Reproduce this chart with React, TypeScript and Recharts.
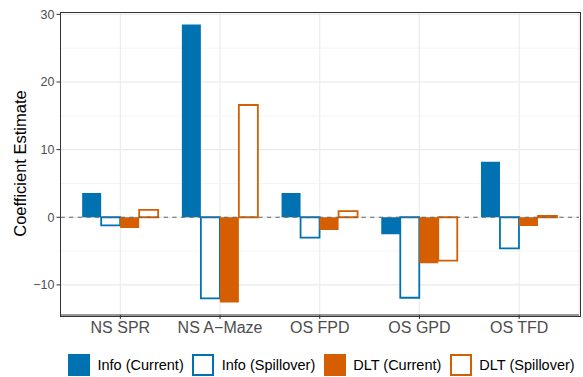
import React from "react";
import {
  BarChart,
  Bar,
  XAxis,
  YAxis,
  CartesianGrid,
  ReferenceLine,
  Legend,
} from "recharts";

const categories = ["NS SPR", "NS A\u2212Maze", "OS FPD", "OS GPD", "OS TFD"];
const infoCurrent = [3.6, 28.5, 3.6, -2.5, 8.2];
const infoSpillover = [-1.2, -12.0, -3.0, -11.9, -4.6];
const dltCurrent = [-1.6, -12.6, -1.9, -6.8, -1.3];
const dltSpillover = [1.1, 16.6, 0.9, -6.4, 0.2];

const yTicks = [-10, 0, 10, 20, 30];
const yMinor = [-10, -5, 0, 5, 10, 15, 20, 25, 30];
const yDomain = [-14.45, 30.35];

const BLUE = "#0072B2";
const ORANGE = "#D55E00";
const FONT = "'Liberation Sans', Arial, Helvetica, sans-serif";

const W = 583;
const H = 377;
const M = { top: 12, right: 4, left: 0, bottom: 0 };
const Y_AXIS_W = 60.5;
const X_AXIS_H = 38;
const LEGEND_H = 24;

const series = [
  { key: "infoCurrent", name: "Info (Current)", color: BLUE, filled: true },
  { key: "infoSpillover", name: "Info (Spillover)", color: BLUE, filled: false },
  { key: "dltCurrent", name: "DLT (Current)", color: ORANGE, filled: true },
  { key: "dltSpillover", name: "DLT (Spillover)", color: ORANGE, filled: false },
];

const data = categories.map((c, i) => ({
  category: c,
  infoCurrent: infoCurrent[i],
  infoSpillover: infoSpillover[i],
  dltCurrent: dltCurrent[i],
  dltSpillover: dltSpillover[i],
}));

const fmt = (v: number) => String(v).replace("-", "\u2212");

function LegendBox() {
  return (
    <div
      style={{
        height: LEGEND_H,
        display: "flex",
        alignItems: "center",
        paddingLeft: 68,
        fontFamily: FONT,
        fontSize: 14.5,
        color: "#000",
      }}
    >
      {series.map((s) => (
        <div key={s.key} style={{ display: "flex", alignItems: "center", marginRight: 8.5 }}>
          <div
            style={{
              width: 22,
              height: 22,
              boxSizing: "border-box",
              background: s.filled ? s.color : "#fff",
              border: s.filled ? "none" : `2px solid ${s.color}`,
              marginRight: 7.5,
            }}
          />
          <span style={{ whiteSpace: "nowrap" }}>{s.name}</span>
        </div>
      ))}
    </div>
  );
}

function YLabel(props: any) {
  const vb = props.viewBox || { x: 0, y: 0, width: 60, height: 300 };
  const cx = vb.x + 19.5;
  const cy = vb.y + vb.height / 2;
  return (
    <text
      x={cx}
      y={cy}
      transform={`rotate(-90, ${cx}, ${cy})`}
      textAnchor="middle"
      dominantBaseline="central"
      fontFamily={FONT}
      fontSize={16.5}
      fill="#000"
    >
      Coefficient Estimate
    </text>
  );
}

export default function App() {
  // panel border drawn on top of the plot area (ggplot theme_bw look)
  const panel = {
    left: M.left + Y_AXIS_W,
    top: M.top,
    width: W - M.left - M.right - Y_AXIS_W,
    height: H - M.top - M.bottom - X_AXIS_H - LEGEND_H,
  };
  return (
    <div style={{ position: "absolute", left: 0, top: 0, width: W, height: H, fontFamily: FONT }}>
      <BarChart
        width={W}
        height={H}
        data={data}
        margin={M}
        barCategoryGap="11.7%"
        barGap={0}
      >
        <CartesianGrid
          horizontalValues={yMinor}
          vertical={false}
          stroke="#EFEFEF"
          strokeWidth={0.6}
        />
        <CartesianGrid horizontalValues={yTicks} stroke="#EBEBEB" strokeWidth={1.1} />
        <XAxis
          dataKey="category"
          padding={{ left: 10, right: 10 }}
          height={X_AXIS_H}
          tickSize={4}
          tickMargin={3}
          tick={{ fill: "#4D4D4D", fontSize: 16, fontFamily: FONT }}
          tickLine={{ stroke: "#333" }}
          axisLine={{ stroke: "#333" }}
          interval={0}
        />
        <YAxis
          domain={yDomain}
          ticks={yTicks}
          width={Y_AXIS_W}
          tickSize={4}
          tickMargin={2}
          tickFormatter={fmt}
          tick={{ fill: "#4D4D4D", fontSize: 12.5, fontFamily: FONT }}
          tickLine={{ stroke: "#333" }}
          axisLine={{ stroke: "#333" }}
          allowDataOverflow
          label={<YLabel />}
        />
        <ReferenceLine y={0} stroke="#666" strokeDasharray="4.3 4.3" strokeWidth={1} />
        {series.map((s) => (
          <Bar
            key={s.key}
            dataKey={s.key}
            name={s.name}
            fill={s.filled ? s.color : "#fff"}
            stroke={s.filled ? "none" : s.color}
            strokeWidth={s.filled ? 0 : 1.8}
            isAnimationActive={false}
          />
        ))}
        <Legend verticalAlign="bottom" content={<LegendBox />} />
      </BarChart>
      <div
        style={{
          position: "absolute",
          left: panel.left - 0.5,
          top: panel.top - 0.5,
          width: panel.width,
          height: panel.height,
          border: "1px solid #333",
          pointerEvents: "none",
        }}
      />
    </div>
  );
}
